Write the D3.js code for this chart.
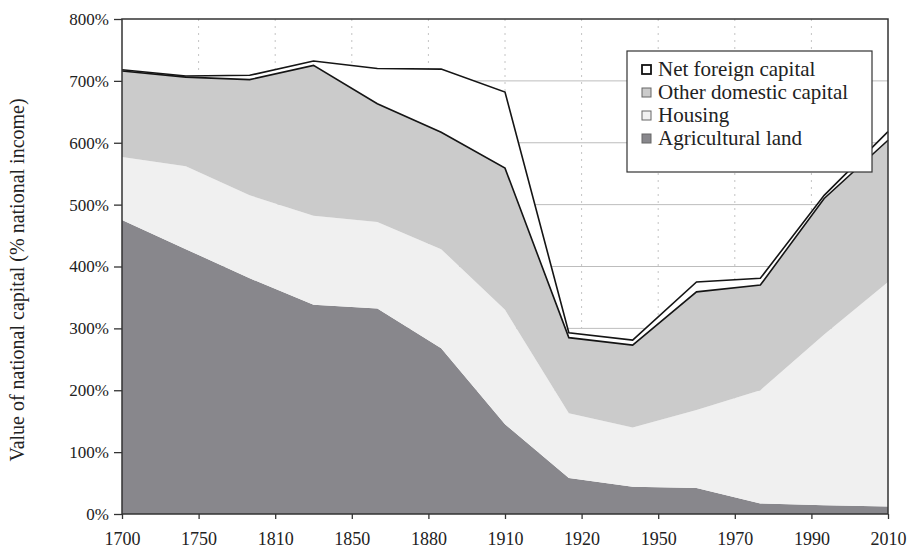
<!DOCTYPE html>
<html>
<head>
<meta charset="utf-8">
<script src="https://cdn.jsdelivr.net/npm/d3@7"></script>
<style>
  body { margin: 0; background: #fff; }
  svg text { font-family: "Liberation Serif", "DejaVu Serif", serif; fill: #222; }
</style>
</head>
<body>
<div id="chart"></div>
<script>
var width = 911;
var height = 550;
var margin = {top: 19, right: 23, bottom: 36, left: 122};

// 13 data points, evenly spaced along the axis
var agricultural = [475, 428, 381, 338, 332, 268, 145, 58, 44, 42, 17, 14, 12];
var housing = [102, 134, 134, 144, 140, 160, 185, 105, 96, 126, 183, 276, 363];
var otherDomestic = [139, 144, 187, 243, 191, 189, 229, 122, 133, 191, 170, 220, 229];
var netForeign = [2, 2, 7, 7, 57, 102, 123, 8, 8, 16, 11, 5, 14];

var tickLabels = ["1700", "1750", "1810", "1850", "1880", "1910", "1920", "1950", "1970", "1990", "2010"];
var yTicks = [0, 100, 200, 300, 400, 500, 600, 700, 800];

var keys = ["agri", "housing", "other", "foreign"];
var names = {foreign: "Net foreign capital", other: "Other domestic capital", housing: "Housing", agri: "Agricultural land"};
var colors = {agri: "#88878c", housing: "#f0f0f0", other: "#cbcbcb", foreign: "#ffffff"};

var rows = agricultural.map(function(d, i) {
    return {i: i, agri: d, housing: housing[i], other: otherDomestic[i], foreign: netForeign[i]};
});

var svg = d3.select("#chart").append("svg")
    .attr("width", width)
    .attr("height", height);

var x = d3.scaleLinear().domain([0, rows.length - 1]).range([margin.left, width - margin.right]);
var xTick = d3.scalePoint().domain(tickLabels).range([margin.left, width - margin.right]);
var y = d3.scaleLinear().domain([0, 800]).range([height - margin.bottom, margin.top]);

// grid
svg.append("g").selectAll("line")
    .data(yTicks.slice(1, -1))
    .enter().append("line")
    .attr("x1", margin.left).attr("x2", width - margin.right)
    .attr("y1", function(d) { return y(d); }).attr("y2", function(d) { return y(d); })
    .attr("stroke", "#bdbdbd").attr("stroke-width", 1);

svg.append("g").selectAll("line")
    .data(tickLabels.slice(1, -1))
    .enter().append("line")
    .attr("x1", function(d) { return xTick(d); }).attr("x2", function(d) { return xTick(d); })
    .attr("y1", margin.top).attr("y2", height - margin.bottom)
    .attr("stroke", "#c4c4c4").attr("stroke-dasharray", "2,5");

var stacked = d3.stack().keys(keys)(rows);

var area = d3.area()
    .x(function(d) { return x(d.data.i); })
    .y0(function(d) { return y(d[0]); })
    .y1(function(d) { return y(d[1]); });

svg.append("g").selectAll("path")
    .data(stacked)
    .enter().append("path")
    .attr("d", area)
    .attr("fill", function(d) { return colors[d.key]; });

// outline of the foreign capital band
var line = d3.line()
    .x(function(d) { return x(d.data.i); })
    .y(function(d) { return y(d[1]); });

svg.append("path")
    .attr("d", line(stacked[2]))
    .attr("fill", "none").attr("stroke", "#151515").attr("stroke-width", 1.6);
svg.append("path")
    .attr("d", line(stacked[3]))
    .attr("fill", "none").attr("stroke", "#151515").attr("stroke-width", 1.6);

// frame
svg.append("rect")
    .attr("x", margin.left).attr("y", margin.top)
    .attr("width", width - margin.left - margin.right)
    .attr("height", height - margin.top - margin.bottom)
    .attr("fill", "none").attr("stroke", "#333").attr("stroke-width", 1.5);

// axes
var yAxis = d3.axisLeft(y).tickValues(yTicks).tickSize(8).tickFormat(function(d) { return d + "%"; });
var gy = svg.append("g")
    .attr("transform", "translate(" + margin.left + ",0)")
    .call(yAxis);
gy.select(".domain").remove();
gy.selectAll("line").attr("stroke", "#333").attr("stroke-width", 1.3);
gy.selectAll("text").style("font-size", "17px").attr("x", -13).attr("fill", "#222");

var xAxis = d3.axisBottom(xTick).tickSize(5);
var gx = svg.append("g")
    .attr("transform", "translate(0," + (height - margin.bottom) + ")")
    .call(xAxis);
gx.select(".domain").remove();
gx.selectAll("line").attr("stroke", "#333").attr("stroke-width", 1.3);
gx.selectAll("text").style("font-size", "18px").attr("y", 18).attr("fill", "#222");

svg.append("text")
    .attr("text-anchor", "middle")
    .attr("transform", "translate(24,280) rotate(-90)")
    .style("font-size", "20px")
    .text("Value of national capital (% national income)");

// legend
var legend = svg.append("g").attr("transform", "translate(627,51)");
legend.append("rect")
    .attr("width", 245).attr("height", 121)
    .attr("fill", "#fff").attr("stroke", "#333").attr("stroke-width", 1.2);

var items = legend.selectAll("g.item")
    .data(keys.slice().reverse())
    .enter().append("g")
    .attr("class", "item")
    .attr("transform", function(d, i) { return "translate(15," + (19 + i * 23) + ")"; });

items.append("rect")
    .attr("x", 0).attr("y", -5)
    .attr("width", 9).attr("height", 9)
    .attr("fill", function(d) { return d == "foreign" ? "#fff" : colors[d]; })
    .attr("stroke", function(d) { return d == "foreign" ? "#111" : "#666"; })
    .attr("stroke-width", function(d) { return d == "foreign" ? 1.8 : 1; });

items.append("text")
    .attr("x", 16).attr("y", 6)
    .style("font-size", "21px")
    .text(function(d) { return names[d]; });
</script>
</body>
</html>
